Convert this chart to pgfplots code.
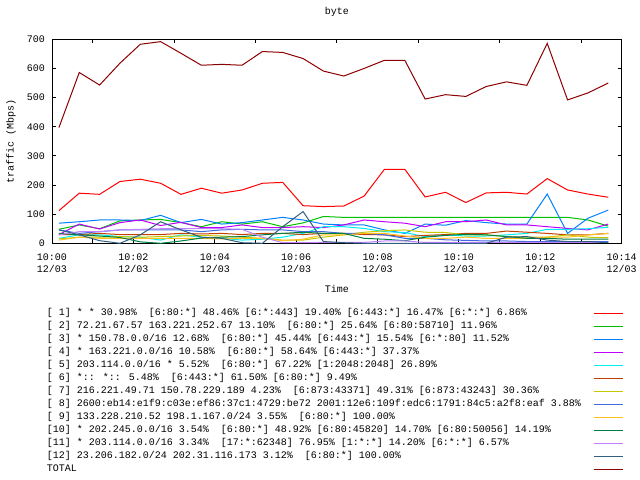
\documentclass[border=0pt]{standalone}
\usepackage{fontspec}
\setmainfont{Liberation Mono}
\usepackage{pgfplots}
\usepackage{pgfplotstable}
\pgfplotsset{compat=1.18}

% gnuplot png default palette
\definecolor{c1}{HTML}{FF0000}
\definecolor{c2}{HTML}{00C000}
\definecolor{c3}{HTML}{0080FF}
\definecolor{c4}{HTML}{C000FF}
\definecolor{c5}{HTML}{00EEEE}
\definecolor{c6}{HTML}{C04000}
\definecolor{c7}{HTML}{C8C800}
\definecolor{c8}{HTML}{4169E1}
\definecolor{c9}{HTML}{FFC020}
\definecolor{c10}{HTML}{008040}
\definecolor{c11}{HTML}{C080FF}
\definecolor{c12}{HTML}{306080}
\definecolor{c13}{HTML}{8B0000}

% t = minutes after 10:00
\pgfplotstableread{
t     s1  s2  s3  s4  s5  s6  s7  s8  s9  s10 s11 s12 tot
0.17  112 48  69  30  17  30  15  46  11  34  29  46  397
0.67  172 63  74  66  29  30  21  34  21  29  40  29  586
1.17  168 50  80  49  29  34  21  40  17  25  40  9   543
1.67  212 77  80  71  23  30  23  46  17  20  46  0   618
2.17  220 80  78  80  21  30  21  46  17  5   48  29  683
2.67  206 82  96  61  11  30  23  46  17  0   50  74  692
3.17  168 71  71  72  29  34  25  46  17  8   50  46  652
3.67  189 57  82  54  21  32  27  40  17  18  50  21  611
4.17  172 74  66  54  17  34  25  46  15  21  50  17  614
4.67  183 66  71  63  11  30  21  48  17  23  48  2   611
5.17  206 74  80  54  14  34  17  46  17  29  21  0   658
5.67  209 57  89  54  21  34  11  46  9   34  2   57  655
6.17  129 70  80  57  34  30  11  40  14  38  2   109 634
6.67  126 92  66  54  57  34  21  40  29  34  3   6   591
7.17  128 89  63  63  57  34  29  34  29  34  3   2   574
7.67  162 89  63  80  51  30  38  34  34  17  3   0   600
8.17  254 89  46  74  40  29  43  29  34  14  8   0   628
8.67  254 89  34  69  37  23  46  17  25  9   8   0   628
9.17  159 89  66  57  23  27  38  17  17  21  3   0   495
9.67  175 89  62  74  29  30  37  12  17  27  3   0   510
10.17 140 89  78  74  25  34  29  10  21  31  3   0   504
10.67 173 89  71  80  25  34  29  8   17  29  3   0   538
11.17 175 89  66  63  29  42  23  8   17  23  3   21  554
11.67 169 89  66  63  34  38  21  6   17  17  3   23  542
12.17 222 89  169 57  48  34  21  6   21  17  3   11  686
12.67 183 89  34  51  48  29  29  6   21  14  3   6   492
13.17 169 80  86  46  50  29  21  6   29  14  3   6   516
13.67 158 59  114 66  55  34  19  6   34  14  3   2   550
}\traffic

\begin{document}
\fontsize{10bp}{12.3bp}\selectfont
\begin{tikzpicture}
\useasboundingbox (0,0) rectangle (640bp,480bp);
\begin{axis}[
    at={(52bp,236.7bp)}, anchor=south west,
    scale only axis, width=569.7bp, height=204bp,
    xmin=0, xmax=14, ymin=0, ymax=700,
    font=\fontsize{10bp}{12.3bp}\selectfont,
    /pgf/number format/assume math mode=true,
    axis line style={line width=1bp},
    tick align=inside, major tick length=4bp,
    tick style={black, line width=1bp},
    xtick={0,2,...,14},
    xticklabels={{10:00\\12/03},{10:02\\12/03},{10:04\\12/03},{10:06\\12/03},
                 {10:08\\12/03},{10:10\\12/03},{10:12\\12/03},{10:14\\12/03}},
    xtick pos=left,
    extra x ticks={1,3,...,13},
    extra x tick labels={},
    extra x tick style={xtick pos=both},
    xticklabel style={align=center, anchor=center, yshift=-19.7bp},
    ytick={0,100,...,700},
    ytick pos=both,
    yticklabel style={anchor=east, xshift=-3.7bp},
    title={byte},
    title style={at={(0.5,1.1029)}, anchor=center, inner sep=0pt},
    xlabel={Time},
    xlabel style={at={(0.5,-0.224)}, anchor=center, inner sep=0pt},
    ylabel={traffic (Mbps)},
    ylabel style={at={(-0.072,0.5)}, anchor=center, inner sep=0pt},
    legend plot pos=right,
    legend cell align=left,
    legend image code/.code={\draw[#1] (0bp,0bp) -- (29bp,0bp);},
    legend style={at={(-0.0088,-0.3118)}, anchor=north west,
        draw=none, fill=none, inner sep=0pt, outer sep=0pt,
        row sep=0pt, column sep=12bp,
        font=\fontsize{10bp}{12.3bp}\selectfont,
        nodes={inner sep=0pt, text height=9bp, text depth=4bp}},
    every axis plot/.append style={line width=1bp},
]
\addplot[c1]  table[x=t, y=s1]  {\traffic};
\addlegendentry{[~1] * * 30.98\%~ [6:80:*] 48.46\% [6:*:443] 19.40\% [6:443:*] 16.47\% [6:*:*] 6.86\%}
\addplot[c2]  table[x=t, y=s2]  {\traffic};
\addlegendentry{[~2] 72.21.67.57 163.221.252.67 13.10\%~ [6:80:*] 25.64\% [6:80:58710] 11.96\%}
\addplot[c3]  table[x=t, y=s3]  {\traffic};
\addlegendentry{[~3] * 150.78.0.0/16 12.68\%~ [6:80:*] 45.44\% [6:443:*] 15.54\% [6:*:80] 11.52\%}
\addplot[c4]  table[x=t, y=s4]  {\traffic};
\addlegendentry{[~4] * 163.221.0.0/16 10.58\%~ [6:80:*] 58.64\% [6:443:*] 37.37\%}
\addplot[c5]  table[x=t, y=s5]  {\traffic};
\addlegendentry{[~5] 203.114.0.0/16 * 5.52\%~ [6:80:*] 67.22\% [1:2048:2048] 26.89\%}
\addplot[c6]  table[x=t, y=s6]  {\traffic};
\addlegendentry{[~6] *:: *:: 5.48\%~ [6:443:*] 61.50\% [6:80:*] 9.49\%}
\addplot[c7]  table[x=t, y=s7]  {\traffic};
\addlegendentry{[~7] 216.221.49.71 150.78.229.189 4.23\%~ [6:873:43371] 49.31\% [6:873:43243] 30.36\%}
\addplot[c8]  table[x=t, y=s8]  {\traffic};
\addlegendentry{[~8] 2600:eb14:e1f9:c03e:ef86:37c1:4729:be72 2001:12e6:109f:edc6:1791:84c5:a2f8:eaf 3.88\%}
\addplot[c9]  table[x=t, y=s9]  {\traffic};
\addlegendentry{[~9] 133.228.210.52 198.1.167.0/24 3.55\%~ [6:80:*] 100.00\%}
\addplot[c10] table[x=t, y=s10] {\traffic};
\addlegendentry{[10] * 202.245.0.0/16 3.54\%~ [6:80:*] 48.92\% [6:80:45820] 14.70\% [6:80:50056] 14.19\%}
\addplot[c11] table[x=t, y=s11] {\traffic};
\addlegendentry{[11] * 203.114.0.0/16 3.34\%~ [17:*:62348] 76.95\% [1:*:*] 14.20\% [6:*:*] 6.57\%}
\addplot[c12] table[x=t, y=s12] {\traffic};
\addlegendentry{[12] 23.206.182.0/24 202.31.116.173 3.12\%~ [6:80:*] 100.00\%}
\addplot[c13] table[x=t, y=tot] {\traffic};
\addlegendentry{TOTAL}
\end{axis}
\end{tikzpicture}
\end{document}
